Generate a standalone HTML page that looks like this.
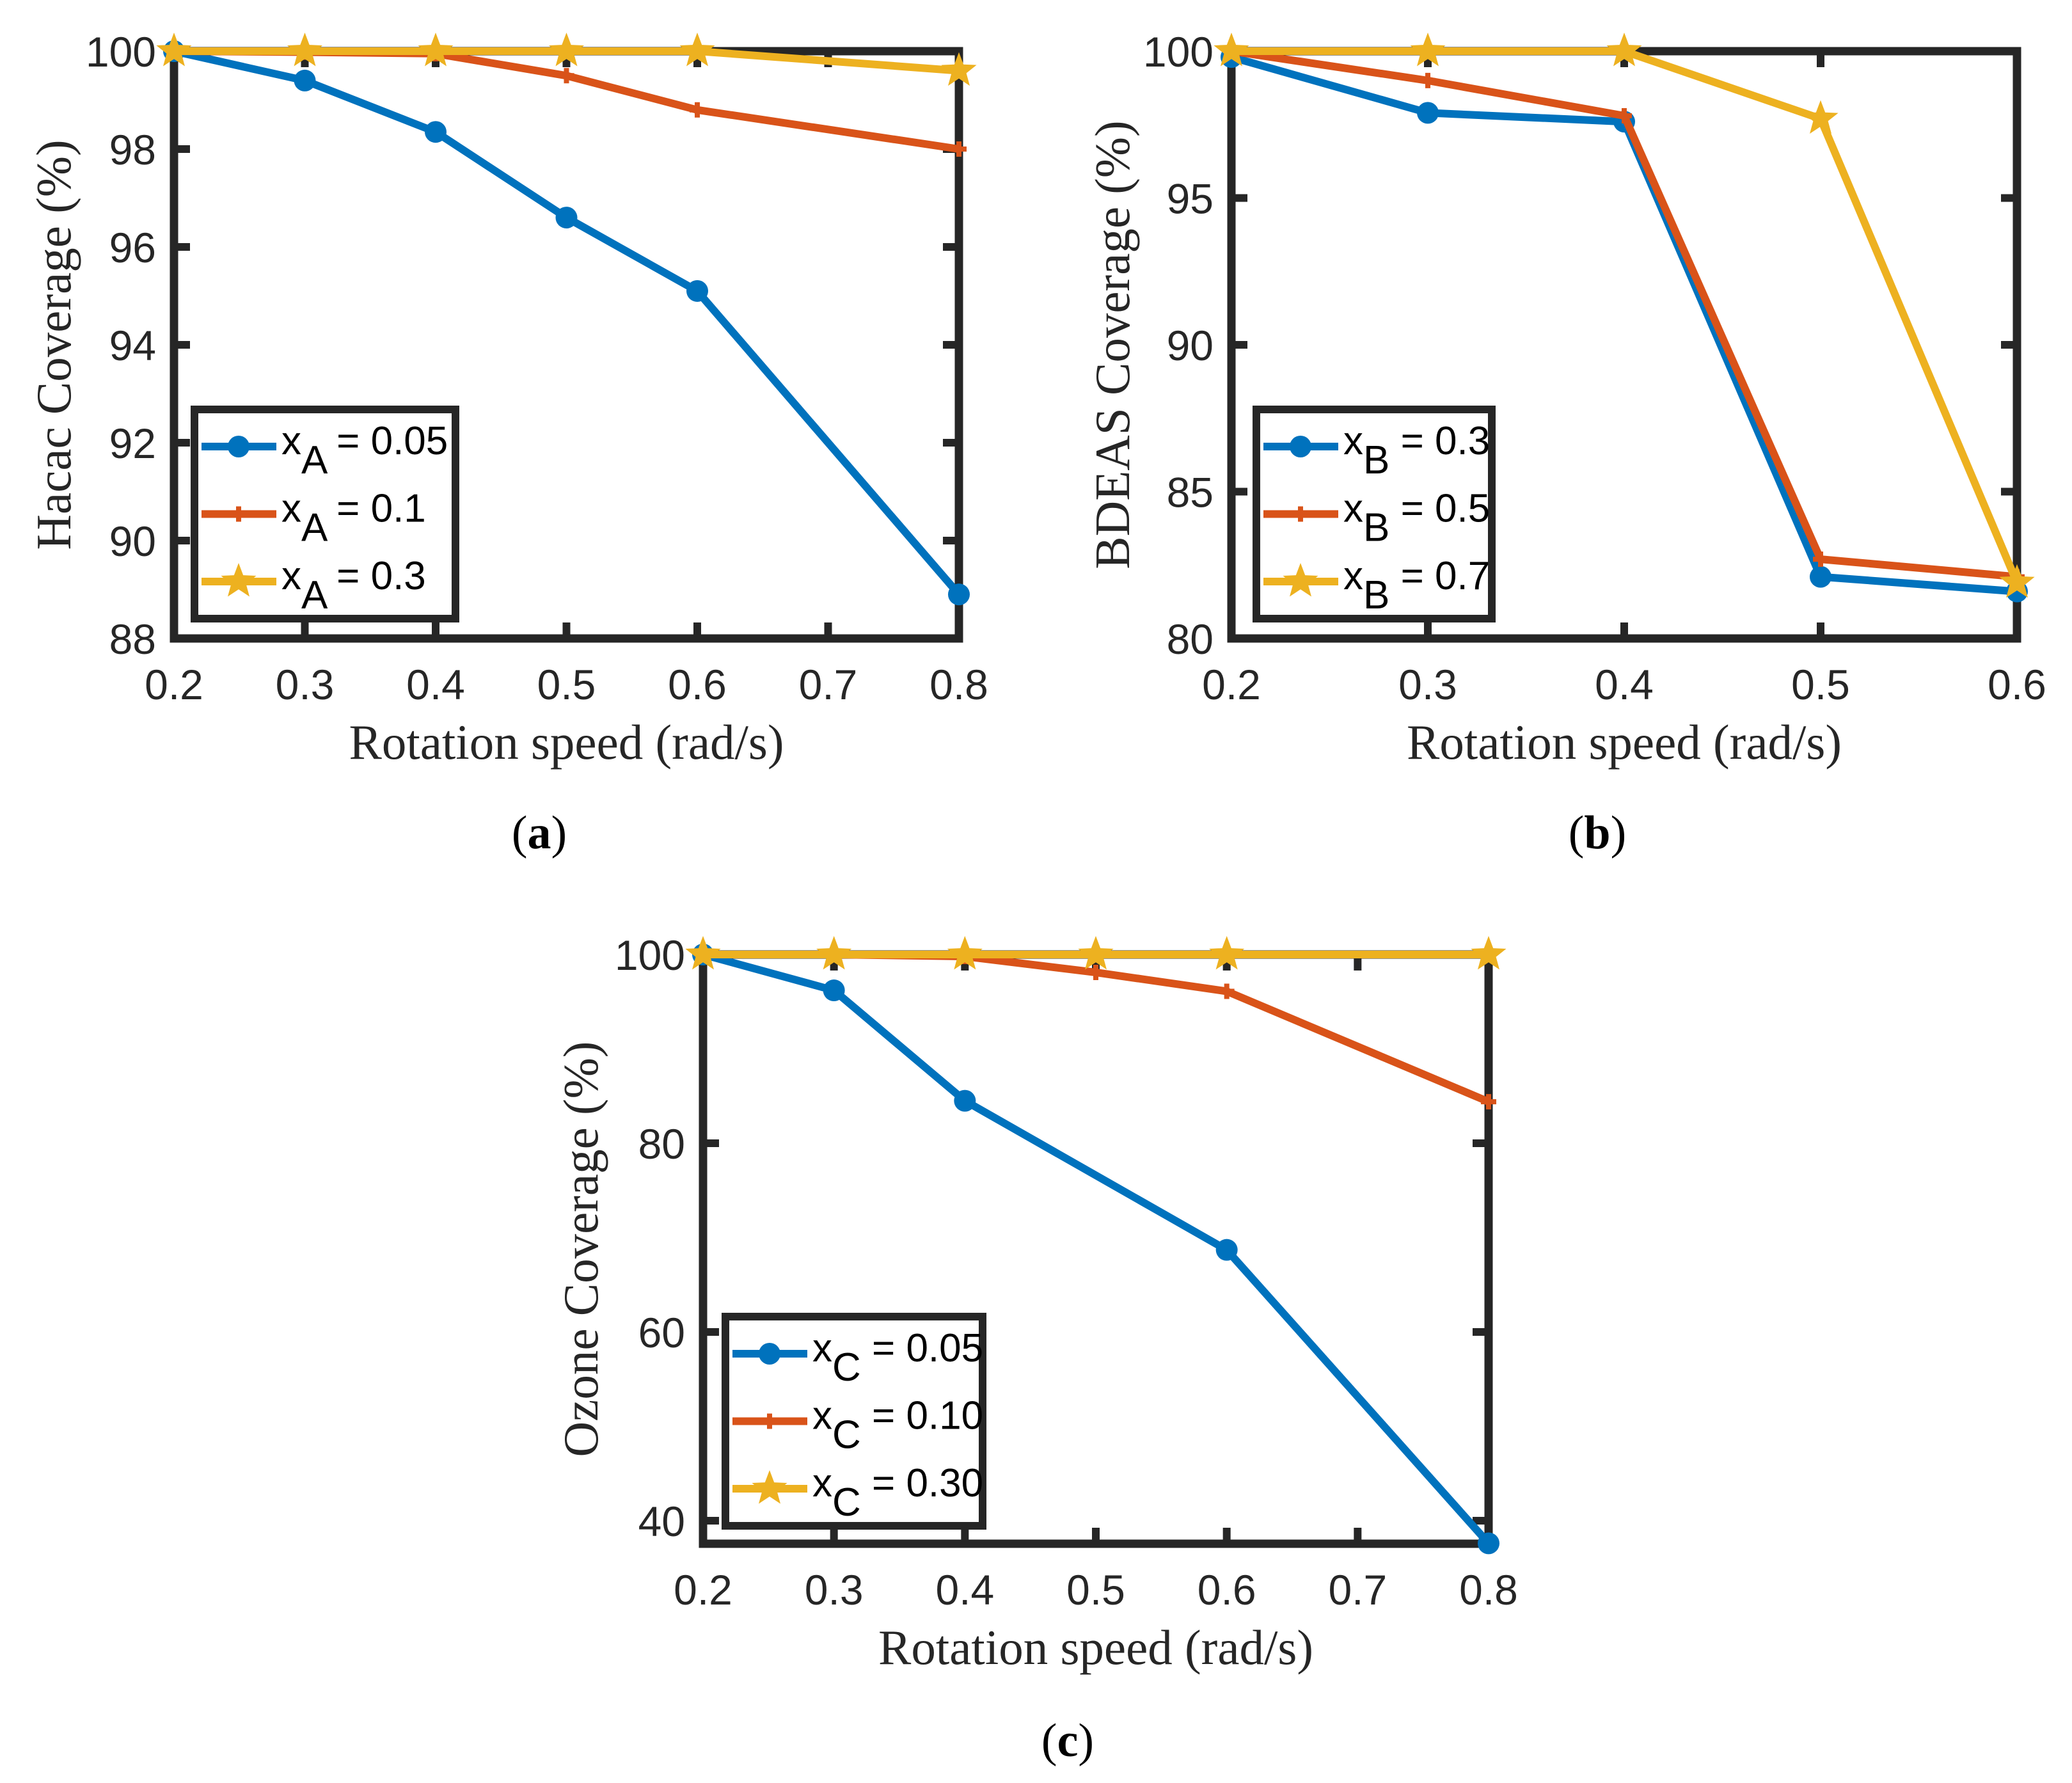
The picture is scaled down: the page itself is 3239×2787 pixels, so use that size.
<!DOCTYPE html>
<html><head><meta charset="utf-8">
<style>
html,body{margin:0;padding:0;background:#fff;}
svg{display:block;}
.tick{font-family:"Liberation Sans",Arial,sans-serif;font-size:66px;fill:#262626;}
.ttl{font-family:"Liberation Serif","Times New Roman",serif;font-size:77px;fill:#262626;}
.cap{font-family:"Liberation Serif","Times New Roman",serif;font-size:74px;fill:#000;}
.leg{font-family:"Liberation Sans",Arial,sans-serif;font-size:62px;fill:#000;}
</style></head>
<body>
<svg id="fig" xmlns="http://www.w3.org/2000/svg" width="3239" height="2787" viewBox="0 0 3239 2787"></svg>
<script>
// ---- Panel (a) data ----
const aX = [0.2, 0.3, 0.4, 0.5, 0.6, 0.8];
const aBlue = [100, 99.4, 98.35, 96.6, 95.1, 88.9];
const aRed = [100, 99.98, 99.95, 99.5, 98.8, 98.0];
const aYellow = [100, 100, 100, 100, 100, 99.6];
const aXTicks = [0.2, 0.3, 0.4, 0.5, 0.6, 0.7, 0.8];
const aYTicks = [88, 90, 92, 94, 96, 98, 100];
const aLegend = ["0.05", "0.1", "0.3"];
// ---- Panel (b) data ----
const bX = [0.2, 0.3, 0.4, 0.5, 0.6];
const bBlue = [99.8, 97.9, 97.6, 82.1, 81.6];
const bRed = [100, 99.0, 97.8, 82.7, 82.1];
const bYellow = [100, 100, 100, 97.7, 81.9];
const bXTicks = [0.2, 0.3, 0.4, 0.5, 0.6];
const bYTicks = [80, 85, 90, 95, 100];
const bLegend = ["0.3", "0.5", "0.7"];
// ---- Panel (c) data ----
const cXBlue = [0.2, 0.3, 0.4, 0.6, 0.8];
const cBlue = [100, 96.2, 84.5, 68.7, 37.6];
const cX = [0.2, 0.3, 0.4, 0.5, 0.6, 0.8];
const cRed = [100, 100, 99.8, 98.1, 96.1, 84.4];
const cYellow = [100, 100, 100, 100, 100, 100];
const cXTicks = [0.2, 0.3, 0.4, 0.5, 0.6, 0.7, 0.8];
const cYTicks = [40, 60, 80, 100];
const cLegend = ["0.05", "0.10", "0.30"];

const NS = "http://www.w3.org/2000/svg";
const svg = document.getElementById("fig");
const AX = "#262626", BLUE = "#0072BD", RED = "#D95319", YEL = "#EDB120";

function mk(tag, attrs, parent) {
  const e = document.createElementNS(NS, tag);
  for (const k in attrs) e.setAttribute(k, attrs[k]);
  (parent || svg).appendChild(e);
  return e;
}
function starPts(cx, cy, R) {
  const r = R * 0.42, p = [];
  for (let i = 0; i < 10; i++) {
    const a = -Math.PI / 2 + i * Math.PI / 5, rr = i % 2 ? r : R;
    p.push((cx + rr * Math.cos(a)).toFixed(1) + "," + (cy + rr * Math.sin(a)).toFixed(1));
  }
  return p.join(" ");
}
function marker(g, type, x, y, color) {
  let m;
  if (type === "circle") {
    m = mk("circle", {cx: x, cy: y, r: 17, fill: color}, g);
    
  } else if (type === "plus") {
    m = mk("path", {d: `M${x-12},${y}H${x+12}M${x},${y-12}V${y+12}`, stroke: color, "stroke-width": 8, fill: "none"}, g);
    
  } else {
    m = mk("polygon", {points: starPts(x, y, 29), fill: color}, g);
    
  }
  
}

function panel(cfg) {
  const g = mk("g", {});
  
  
  const {L, R, T, B, x0, x1, y0, y1} = cfg;
  const sx = v => L + (v - x0) / (x1 - x0) * (R - L);
  const sy = v => B - (v - y0) / (y1 - y0) * (B - T);
  cfg.xt.forEach(v => {
    const x = sx(v);
    const t = mk("path", {d: `M${x},${B}V${B-25}M${x},${T}V${T+25}`, stroke: AX, "stroke-width": 12}, g);
    
    
    const l = mk("text", {x: x, y: B + 95, "text-anchor": "middle", class: "tick"}, g);
    l.textContent = String(v);
    
    
  });
  cfg.yt.forEach(v => {
    const y = sy(v);
    const t = mk("path", {d: `M${L},${y}H${L+25}M${R},${y}H${R-25}`, stroke: AX, "stroke-width": 12}, g);
    
    
    const l = mk("text", {x: L - 28, y: y + 24, "text-anchor": "end", class: "tick"}, g);
    l.textContent = String(v);
    
    
  });
  const box = mk("rect", {x: L, y: T, width: R - L, height: B - T, fill: "none", stroke: AX, "stroke-width": 13}, g);
  
  
  cfg.series.forEach(s => {
    const sg = mk("g", {}, g);
    
    
    const pts = s.xs.map((xv, i) => sx(xv).toFixed(1) + "," + sy(s.ys[i]).toFixed(1)).join(" ");
    const pl = mk("polyline", {points: pts, fill: "none", stroke: s.color, "stroke-width": 12, "stroke-linejoin": "round"}, sg);
    
    
    s.xs.forEach((xv, i) => marker(sg, s.m, sx(xv), sy(s.ys[i]), s.color));
  });
  const xt = mk("text", {x: (L + R) / 2, y: B + 188, "text-anchor": "middle", class: "ttl"}, g);
  xt.textContent = "Rotation speed (rad/s)";
  
  
  const yx = cfg.ytx, yy = (T + B) / 2;
  const yt = mk("text", {x: yx, y: yy, "text-anchor": "middle", class: "ttl", transform: `rotate(-90 ${yx} ${yy})`, dy: 26}, g);
  yt.textContent = cfg.ytitle;
  
  
  const lg = mk("g", {}, g);
  
  
  const lr = mk("rect", {x: cfg.lx, y: cfg.ly, width: cfg.lw, height: 327, fill: "#fff", stroke: AX, "stroke-width": 12}, lg);
  
  
  cfg.series.forEach((s, i) => {
    const ey = cfg.ly + 58 + i * 105.5;
    const eg = mk("g", {}, lg);
    
    
    mk("line", {x1: cfg.lx + 11, x2: cfg.lx + 128, y1: ey, y2: ey, stroke: s.color, "stroke-width": 12}, eg);
    marker(eg, s.m, cfg.lx + 69, ey, s.color);
    const t = mk("text", {x: cfg.lx + 136, y: ey + 12, class: "leg"}, eg);
    
    
    const t1 = mk("tspan", {}, t); t1.textContent = "x";
    const t2 = mk("tspan", {dy: 30}, t); t2.textContent = cfg.sub;
    const t3 = mk("tspan", {dy: -30}, t); t3.textContent = " = " + cfg.leg[i];
  });
  const cp = mk("text", {x: cfg.capx, y: cfg.capy, "text-anchor": "middle", class: "cap"}, g);
  
  
  const c1 = mk("tspan", {}, cp); c1.textContent = "(";
  const c2 = mk("tspan", {"font-weight": "bold"}, cp); c2.textContent = cfg.cap;
  const c3 = mk("tspan", {}, cp); c3.textContent = ")";
}

panel({name: "panel-a-hacac", L: 272, R: 1499, T: 80, B: 998, x0: 0.2, x1: 0.8, y0: 88, y1: 100,
  xt: aXTicks, yt: aYTicks, ytitle: "Hacac Coverage (%)", ytx: 84, sub: "A", leg: aLegend,
  lx: 304, ly: 640, lw: 408, capx: 843, capy: 1326, cap: "a",
  series: [
    {name: "series-xa-0.05", xs: aX, ys: aBlue, color: BLUE, m: "circle"},
    {name: "series-xa-0.1", xs: aX, ys: aRed, color: RED, m: "plus"},
    {name: "series-xa-0.3", xs: aX, ys: aYellow, color: YEL, m: "star"}]});

panel({name: "panel-b-bdeas", L: 1925, R: 3153, T: 80, B: 998, x0: 0.2, x1: 0.6, y0: 80, y1: 100,
  xt: bXTicks, yt: bYTicks, ytitle: "BDEAS Coverage (%)", ytx: 1739, sub: "B", leg: bLegend,
  lx: 1964, ly: 640, lw: 368, capx: 2497, capy: 1326, cap: "b",
  series: [
    {name: "series-xb-0.3", xs: bX, ys: bBlue, color: BLUE, m: "circle"},
    {name: "series-xb-0.5", xs: bX, ys: bRed, color: RED, m: "plus"},
    {name: "series-xb-0.7", xs: bX, ys: bYellow, color: YEL, m: "star"}]});

panel({name: "panel-c-ozone", L: 1099, R: 2327, T: 1492, B: 2413, x0: 0.2, x1: 0.8, y0: 37.56, y1: 100,
  xt: cXTicks, yt: cYTicks, ytitle: "Ozone Coverage (%)", ytx: 908, sub: "C", leg: cLegend,
  lx: 1134, ly: 2058, lw: 402, capx: 1669, capy: 2745, cap: "c",
  series: [
    {name: "series-xc-0.05", xs: cXBlue, ys: cBlue, color: BLUE, m: "circle"},
    {name: "series-xc-0.10", xs: cX, ys: cRed, color: RED, m: "plus"},
    {name: "series-xc-0.30", xs: cX, ys: cYellow, color: YEL, m: "star"}]});
</script>
</body></html>
